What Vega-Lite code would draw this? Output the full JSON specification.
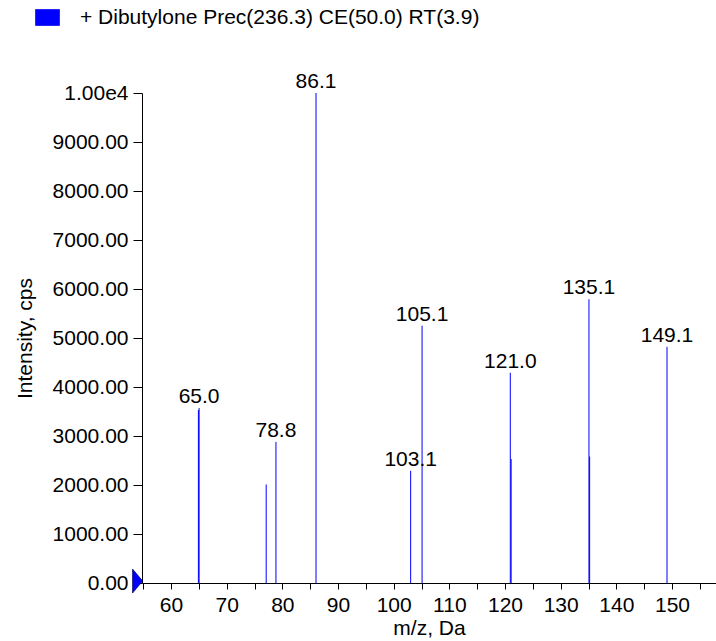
{
  "$schema": "https://vega.github.io/schema/vega-lite/v6.json",
  "width": 574,
  "height": 490,
  "autosize": {"type": "none"},
  "padding": {"left": 142, "top": 93, "right": 0, "bottom": 58},
  "background": "white",
  "title": {"text": "m/z, Da", "frame": "group", "anchor": "middle", "offset": 90, "baseline": "alphabetic", "fontSize": 21, "font": "Liberation Sans", "fontWeight": "normal", "color": "black"},
  "config": {
    "view": {"stroke": null},
    "font": "Liberation Sans",
    "axis": {"grid": false, "domainColor": "black", "tickColor": "black", "labelColor": "black", "titleColor": "black", "labelFontSize": 21, "titleFontSize": 21, "titleFontWeight": "normal", "labelFont": "Liberation Sans", "titleFont": "Liberation Sans", "domainWidth": 1, "tickWidth": 1}
  },
  "resolve": {"axis": {"x": "independent"}},
  "data": {
    "values": [
      {"mz": 64.92, "intensity": 3530, "label": null, "series": "+ Dibutylone Prec(236.3) CE(50.0) RT(3.9)"},
      {"mz": 65.05, "intensity": 3570, "label": "65.0", "series": "+ Dibutylone Prec(236.3) CE(50.0) RT(3.9)"},
      {"mz": 77.1, "intensity": 2010, "label": null, "series": "+ Dibutylone Prec(236.3) CE(50.0) RT(3.9)"},
      {"mz": 78.85, "intensity": 2880, "label": "78.8", "series": "+ Dibutylone Prec(236.3) CE(50.0) RT(3.9)"},
      {"mz": 86.05, "intensity": 10000, "label": "86.1", "series": "+ Dibutylone Prec(236.3) CE(50.0) RT(3.9)"},
      {"mz": 103.05, "intensity": 2290, "label": "103.1", "series": "+ Dibutylone Prec(236.3) CE(50.0) RT(3.9)"},
      {"mz": 105.1, "intensity": 5250, "label": "105.1", "series": "+ Dibutylone Prec(236.3) CE(50.0) RT(3.9)"},
      {"mz": 120.95, "intensity": 4290, "label": "121.0", "series": "+ Dibutylone Prec(236.3) CE(50.0) RT(3.9)"},
      {"mz": 121.1, "intensity": 2530, "label": null, "series": "+ Dibutylone Prec(236.3) CE(50.0) RT(3.9)"},
      {"mz": 135.08, "intensity": 5790, "label": "135.1", "series": "+ Dibutylone Prec(236.3) CE(50.0) RT(3.9)"},
      {"mz": 135.2, "intensity": 2580, "label": null, "series": "+ Dibutylone Prec(236.3) CE(50.0) RT(3.9)"},
      {"mz": 149.1, "intensity": 4820, "label": "149.1", "series": "+ Dibutylone Prec(236.3) CE(50.0) RT(3.9)"}
    ]
  },
  "layer": [
    {
      "mark": {"type": "rule", "strokeWidth": 1},
      "encoding": {
        "x": {"field": "mz", "type": "quantitative",
          "scale": {"domain": [54.79, 157.9], "nice": false, "zero": false},
          "axis": {"title": "m/z, Da", "values": [60,70,80,90,100,110,120,130,140,150], "format": "d", "labelOverlap": false, "labelFlush": false, "tickSize": 6, "labelPadding": 5, "titlePadding": 2}},
        "y": {"field": "intensity", "type": "quantitative",
          "scale": {"domain": [0, 10000], "nice": false},
          "axis": {"title": "Intensity, cps", "values": [0,500,1000,1500,2000,2500,3000,3500,4000,4500,5000,5500,6000,6500,7000,7500,8000,8500,9000,9500,10000], "labelExpr": "datum.value === 10000 ? '1.00e4' : (datum.value % 1000 === 0 ? format(datum.value, '.2f') : '')", "labelOverlap": false, "labelFlush": false, "tickSize": {"condition": {"test": "datum.value % 1000 !== 0", "value": 5}, "value": 9}, "labelPadding": 5, "titlePadding": 17}},
        "y2": {"datum": 0},
        "color": {"field": "series", "type": "nominal", "scale": {"range": ["#0000ff"]},
          "legend": {"orient": "none", "legendX": -107, "legendY": -88, "title": null, "padding": 0, "labelFontSize": 21, "labelFont": "Liberation Sans", "labelColor": "black", "labelOffset": 20, "labelLimit": 2000,
            "symbolType": "M-1,-0.667H1V0.667H-1Z", "symbolSize": 576,
            "encode": {"symbols": {"update": {"fill": {"value": "#0000ff"}, "stroke": {"value": "#00005a"}, "strokeWidth": {"value": 0.7}, "shape": {"value": "M-1,-0.667H1V0.667H-1Z"}, "size": {"value": 576}, "opacity": {"value": 1}}}}}}
      }
    },
    {
      "transform": [{"filter": "datum.label != null"}],
      "mark": {"type": "text", "dy": -5, "baseline": "alphabetic", "align": "center", "fontSize": 21, "font": "Liberation Sans", "color": "black"},
      "encoding": {
        "x": {"field": "mz", "type": "quantitative",
          "axis": {"title": null, "values": [55,65,75,85,95,105,115,125,135,145,155], "labels": false, "domain": false, "ticks": true, "tickSize": 6, "orient": "bottom"}},
        "y": {"field": "intensity", "type": "quantitative"},
        "text": {"field": "label"}
      }
    },
    {
      "data": {"values": [{"mz": 54.0, "intensity": 40}]},
      "mark": {"type": "point", "shape": "M-0.42,-1L0.42,0L-0.42,1Z", "size": 576, "filled": true, "fill": "#0000ff", "stroke": "#00005a", "strokeWidth": 0.7, "opacity": 1},
      "encoding": {
        "x": {"field": "mz", "type": "quantitative", "axis": null},
        "y": {"field": "intensity", "type": "quantitative"}
      }
    }
  ]
}
